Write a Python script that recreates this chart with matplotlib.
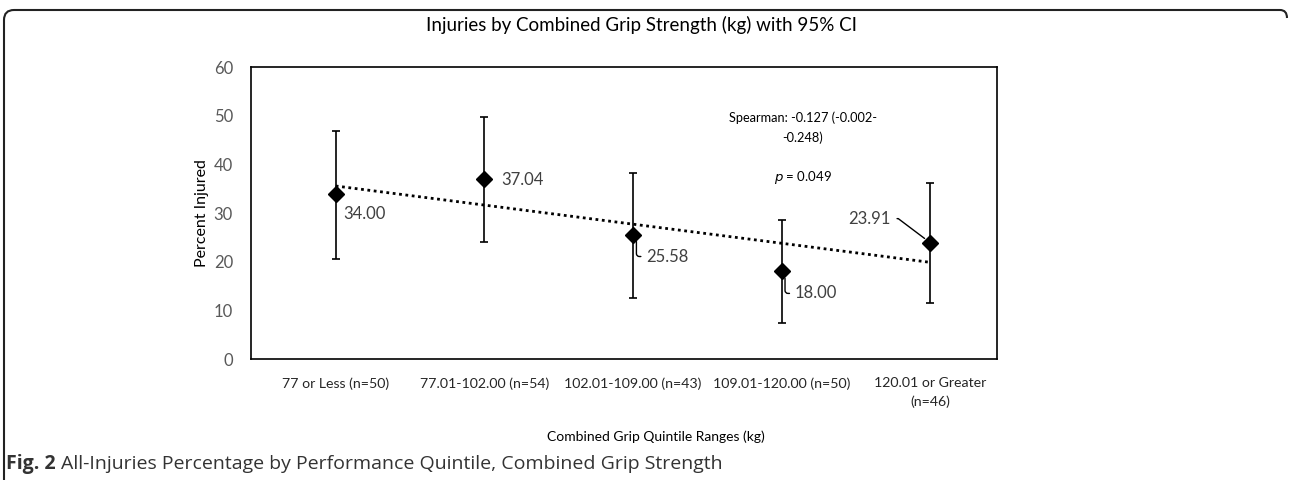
import matplotlib
matplotlib.use('Agg')
import matplotlib.pyplot as plt
import numpy as np
from matplotlib.path import Path
from matplotlib.patches import PathPatch
from matplotlib.transforms import ScaledTranslation

# Datos
categories = ['77 or Less (n=50)', '77.01-102.00 (n=54)', '102.01-109.00 (n=43)',
              '109.01-120.00 (n=50)', '120.01 or Greater\n(n=46)']
pct_injured = [34.00, 37.04, 25.58, 18.00, 23.91]
ci_low = [20.6, 24.0, 12.5, 7.3, 11.6]
ci_high = [46.8, 49.8, 38.3, 28.6, 36.2]
y_ticks = [0, 10, 20, 30, 40, 50, 60]

plt.rcParams['font.family'] = ['Lato', 'DejaVu Sans']

fig = plt.figure(figsize=(12.89, 4.8), dpi=100)
fig.patch.set_facecolor('white')
W, H = 1289, 480

ax = fig.add_axes([251 / W, 1 - 359 / H, (997 - 251) / W, (359 - 67) / H])
x = np.arange(len(categories))
y = np.array(pct_injured)
yerr = [y - np.array(ci_low), np.array(ci_high) - y]

# linea de tendencia (ajuste lineal)
coef = np.polyfit(x, y, 1)
ax.plot(x, np.polyval(coef, x), color='black', lw=2, linestyle=(0, (1, 1.3)), zorder=2)

ax.errorbar(x, y, yerr=yerr, fmt='D', color='black', ms=8, mec='black',
            ecolor='black', elinewidth=1.2, capsize=3, capthick=1.2, zorder=3)

ax.set_xlim(-0.57, 4.45)
ax.set_ylim(0, 60)
ax.set_yticks(y_ticks)
ax.set_xticks(x)
ax.set_xticklabels(categories, fontsize=10.2, color='#262626', linespacing=1.6)
ax.tick_params(axis='both', length=0)
ax.tick_params(axis='y', labelsize=12, labelcolor='#595959', pad=13)
ax.tick_params(axis='x', pad=13)
for s in ax.spines.values():
    s.set_linewidth(1.2)
    s.set_color('black')

ax.set_ylabel('Percent Injured', fontsize=11.5)
ax.yaxis.set_label_coords(-0.056, 0.5)
ax.set_xlabel('Combined Grip Quintile Ranges (kg)', fontsize=10)
ax.xaxis.set_label_coords(0.543, -0.245)
ax.set_title('Injuries by Combined Grip Strength (kg) with 95% CI', fontsize=13.5,
             pad=26, x=0.524)

# etiquetas de datos
lab_col = '#404040'
ax.annotate(f'{pct_injured[0]:.2f}', (x[0], y[0]), xytext=(8, -20),
            textcoords='offset pixels', ha='left', va='center', fontsize=12, color=lab_col)
ax.annotate(f'{pct_injured[1]:.2f}', (x[1], y[1]), xytext=(17, -1),
            textcoords='offset pixels', ha='left', va='center', fontsize=12, color=lab_col)
shift = ax.transData + ScaledTranslation(3.5 / 100, 0, fig.dpi_scale_trans)
for i in (2, 3):
    ax.annotate(f'{pct_injured[i]:.2f}', (x[i], y[i]), xycoords=shift, xytext=(10, -22),
                textcoords='offset pixels', ha='left', va='center', fontsize=12,
                color=lab_col,
                arrowprops=dict(arrowstyle='-', color='black', lw=1,
                                connectionstyle='angle,angleA=0,angleB=90,rad=3',
                                relpos=(0, 0.5), shrinkA=2, shrinkB=5))
ax.annotate(f'{pct_injured[4]:.2f}', (x[4], y[4]), xytext=(-40, 24),
            textcoords='offset pixels', ha='right', va='center', fontsize=12,
            color=lab_col,
            arrowprops=dict(arrowstyle='-', color='black', lw=1,
                            connectionstyle='angle,angleA=0,angleB=143,rad=0',
                            relpos=(1, 0.5), shrinkA=3, shrinkB=5))

# texto de la correlacion
ax.text(0.74, 0.827, 'Spearman: -0.127 (-0.002-', transform=ax.transAxes,
        ha='center', va='center', fontsize=9.2)
ax.text(0.74, 0.757, '-0.248)', transform=ax.transAxes, ha='center', va='center',
        fontsize=9.2)
ax.text(0.74, 0.62, r'$\it{p}$ = 0.049', transform=ax.transAxes, ha='center',
        va='center', fontsize=9.5)

# marco exterior redondeado
r = 10
verts = [(4, H), (4, 10 + r), (4, 10), (4 + r, 10), (1280, 10), (1287, 10), (1287, 18)]
codes = [Path.MOVETO, Path.LINETO, Path.CURVE3, Path.CURVE3, Path.LINETO,
         Path.CURVE3, Path.CURVE3]
verts = [(vx / W, 1 - vy / H) for vx, vy in verts]
frame = PathPatch(Path(verts, codes), facecolor='none', edgecolor='#222222', lw=1.5,
                  transform=fig.transFigure)
fig.add_artist(frame)

# pie de figura
cap_font = ['Open Sans', 'DejaVu Sans']
t1 = fig.text(6 / W, 1 - 464 / H, 'Fig. 2', fontsize=14, fontweight='bold',
              color='#333333', va='center', family=cap_font)
fig.canvas.draw()
bb = t1.get_window_extent()
fig.text((bb.x1 + 5) / W, 1 - 464 / H,
         'All-Injuries Percentage by Performance Quintile, Combined Grip Strength',
         fontsize=14, color='#333333', va='center', family=cap_font)

fig.savefig('out.png', dpi=100, facecolor='white')
